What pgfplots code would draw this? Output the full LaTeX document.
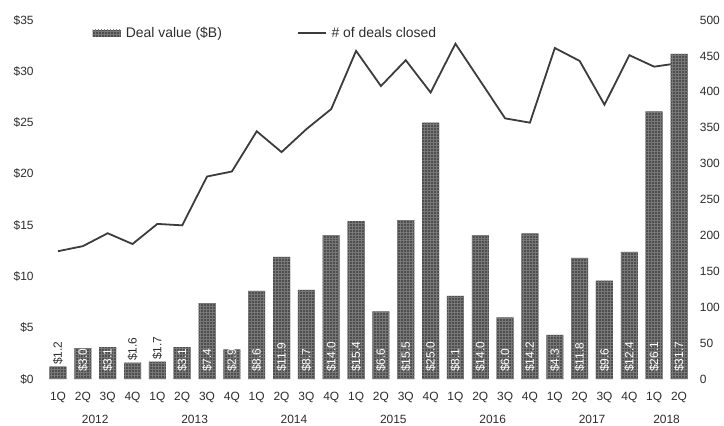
\documentclass[border=0pt]{standalone}
\usepackage{fontspec}
\setmainfont{Liberation Sans}
\usepackage{pgfplots}
\pgfplotsset{compat=1.18}
\usepackage{pgfplotstable}
\usetikzlibrary{patterns}
\definecolor{barc}{RGB}{78,78,78}
\definecolor{meshc}{RGB}{120,120,120}
\definecolor{linec}{RGB}{60,60,60}
\definecolor{txt}{RGB}{45,45,45}

\pgfplotstableread{
x val deals lin lout
0 1.2 178 nan 1.2
1 3.0 185 0 nan
2 3.1 203 0 nan
3 1.6 188 nan 1.6
4 1.7 216 nan 1.7
5 3.1 214 0 nan
6 7.4 282 0 nan
7 2.9 289 0 nan
8 8.6 345 0 nan
9 11.9 316 0 nan
10 8.7 348 0 nan
11 14.0 376 0 nan
12 15.4 457 0 nan
13 6.6 408 0 nan
14 15.5 444 0 nan
15 25.0 399 0 nan
16 8.1 467 0 nan
17 14.0 415 0 nan
18 6.0 363 0 nan
19 14.2 357 0 nan
20 4.3 461 0 nan
21 11.8 443 0 nan
22 9.6 382 0 nan
23 12.4 451 0 nan
24 26.1 435 0 nan
25 31.7 440 0 nan
}\data

\begin{document}
\begin{tikzpicture}
\pgfplotsset{
  base/.style={
    scale only axis, width=655.8bp, height=359bp,
    xmin=-0.7, xmax=25.7,
    axis line style={draw=none},
    major tick length=0pt,
    /pgf/number format/assume math mode=true,
    tick label style={font=\fontsize{12}{14}\selectfont, text=txt},
    clip=false,
  }
}
% right axis: number of deals (line)
\begin{axis}[base, name=ax,
  ymin=0, ymax=500, ytick={0,50,...,500},
  yticklabel pos=right,
  yticklabel style={anchor=west, xshift=0bp},
  xtick=\empty,
]
\addplot[linec, line width=1.8bp, mark=none] table[x=x, y=deals]{\data};
\end{axis}
% left axis: deal value (bars)
\begin{axis}[base,
  ymin=0, ymax=35, ytick={0,5,...,35},
  yticklabel={\$\pgfmathprintnumber{\tick}},
  yticklabel style={xshift=-3.5bp},
  xtick={0,...,25},
  xticklabels={1Q,2Q,3Q,4Q,1Q,2Q,3Q,4Q,1Q,2Q,3Q,4Q,1Q,2Q,3Q,4Q,1Q,2Q,3Q,4Q,1Q,2Q,3Q,4Q,1Q,2Q},
  xticklabel style={yshift=-9.5bp},
  extra x ticks={1.5,5.5,9.5,13.5,17.5,21.5,24.5},
  extra x tick labels={2012,2013,2014,2015,2016,2017,2018},
  extra x tick style={tick label style={yshift=-25.5bp, inner ysep=1bp}},
  legend columns=2,
  legend style={at={(0,1)}, anchor=north west, xshift=51bp, yshift=-4bp,
    draw=none, fill=none, inner sep=1bp,
    nodes={inner xsep=5bp},
    font=\fontsize{14}{16}\selectfont, text=txt,
    /tikz/every even column/.append style={column sep=70bp}},
]
\addplot[ybar, bar width=17bp, fill=barc, draw=none,
  postaction={pattern=grid, pattern color=meshc},
  legend image code/.code={
    \fill[barc] (0bp,-3.5bp) rectangle (28bp,3.5bp);
    \fill[pattern=grid, pattern color=meshc] (0bp,-3.5bp) rectangle (28bp,3.5bp);}]
  table[x=x, y=val]{\data};
\addlegendentry{Deal value (\$B)}
\addlegendimage{legend image code/.code={\draw[linec, line width=1.6bp] (0bp,0bp) -- (28bp,0bp);}}
\addlegendentry{\# of deals closed}
% labels inside bars
\addplot[draw=none, mark=none, forget plot,
  point meta=explicit,
  nodes near coords={\$\pgfmathprintnumber[fixed,fixed zerofill,precision=1]{\pgfplotspointmeta}},
  every node near coord/.append style={rotate=90, anchor=west, text=white,
    inner xsep=7bp, inner ysep=0bp, font=\fontsize{12}{14}\selectfont}]
  table[x=x, y=lin, meta=val]{\data};
% labels above small bars
\addplot[draw=none, mark=none, forget plot,
  point meta=explicit,
  nodes near coords={\$\pgfmathprintnumber[fixed,fixed zerofill,precision=1]{\pgfplotspointmeta}},
  every node near coord/.append style={rotate=90, anchor=west, text=txt,
    inner xsep=1.5bp, inner ysep=0bp, font=\fontsize{12}{14}\selectfont}]
  table[x=x, y=lout, meta=val]{\data};
\end{axis}
\pgfresetboundingbox
\path ([shift={(-40.6bp,-47bp)}]ax.south west) rectangle ([shift={(27.6bp,20bp)}]ax.north east);
\end{tikzpicture}
\end{document}
